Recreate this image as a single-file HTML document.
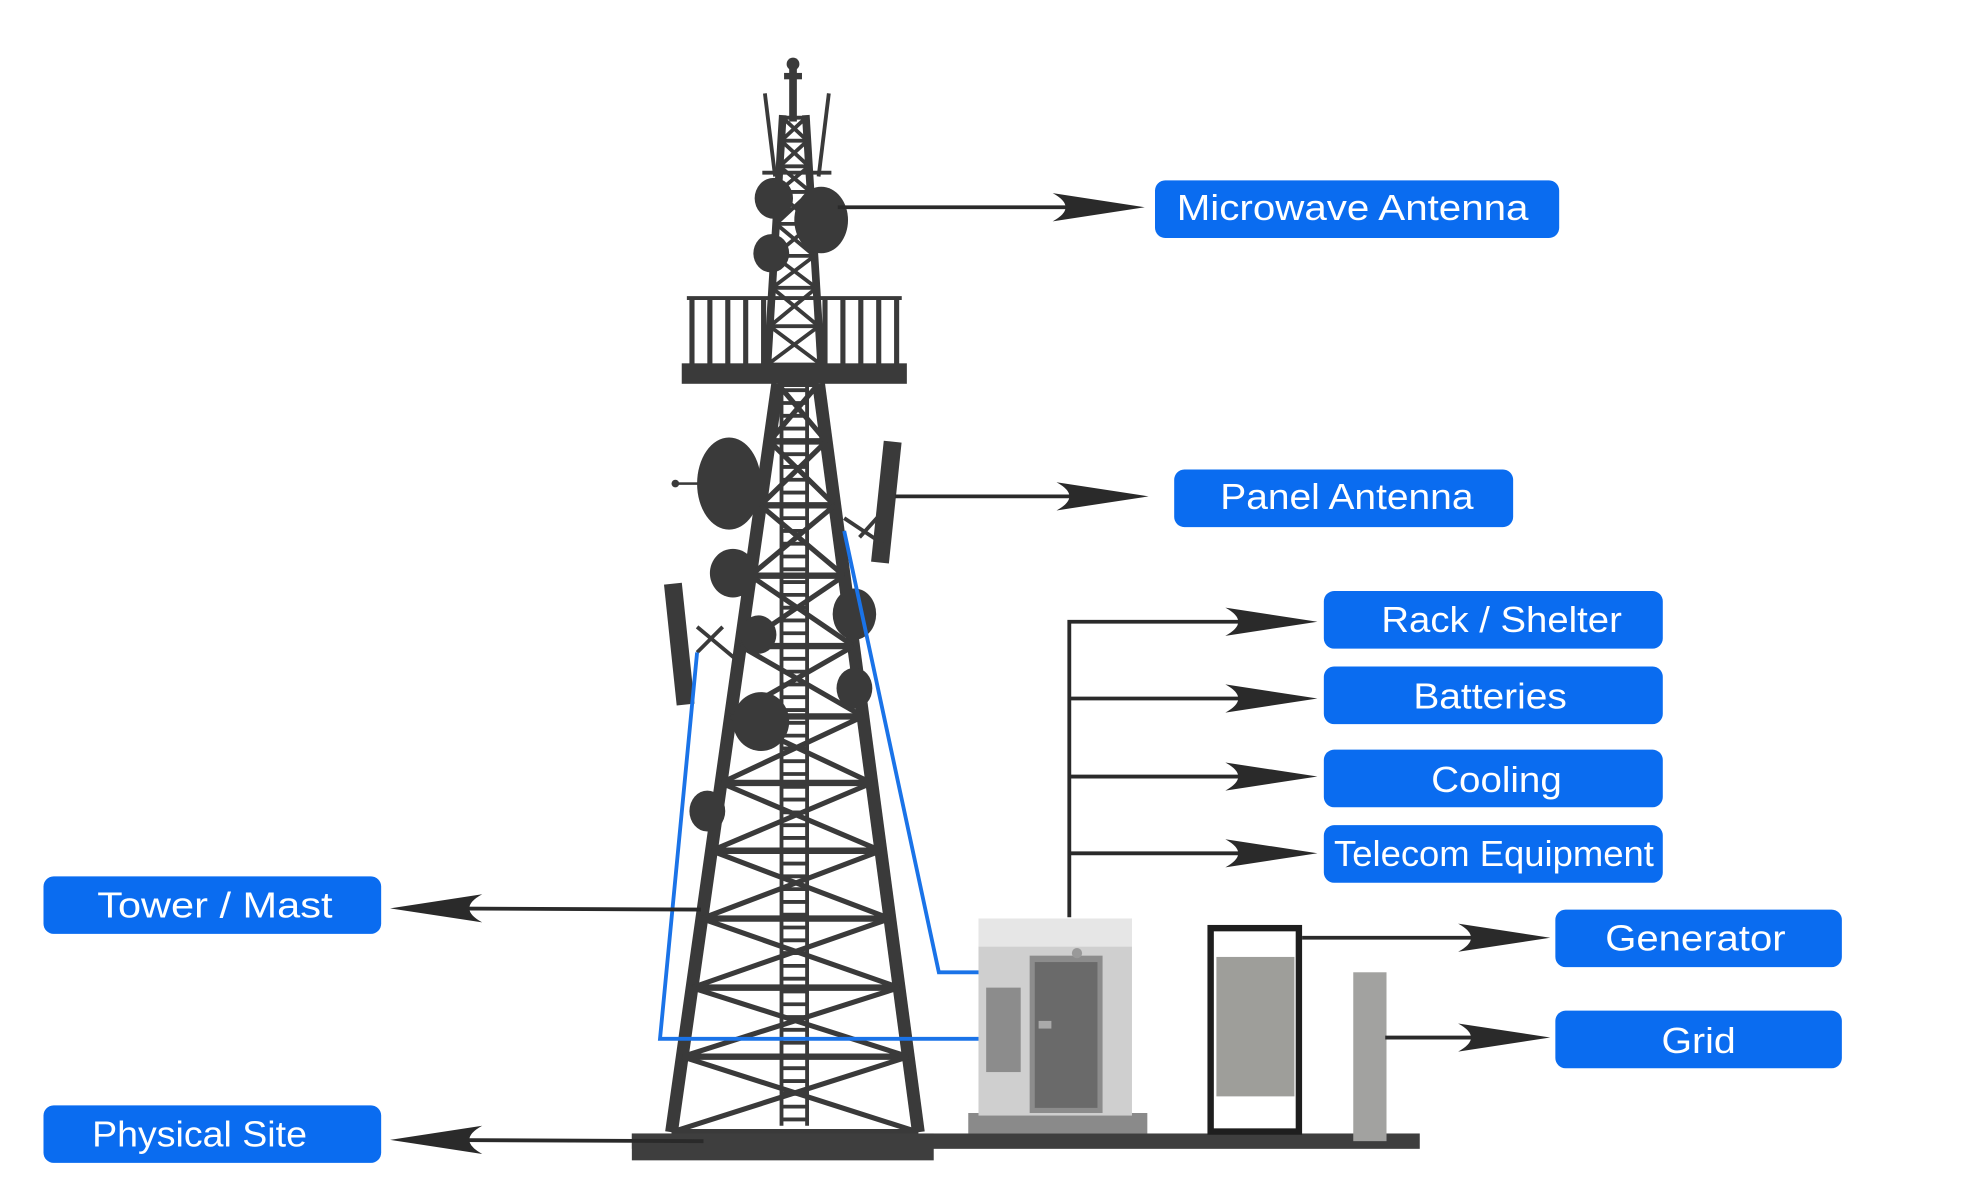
<!DOCTYPE html>
<html><head><meta charset="utf-8"><style>
html,body{margin:0;padding:0;background:#fff;}
svg{display:block;}
text{font-family:"Liberation Sans",sans-serif;fill:#fff;font-size:28px;}
</style></head><body>
<svg id="s" width="1980" height="1200" viewBox="0 0 1548 938" preserveAspectRatio="none" xmlns="http://www.w3.org/2000/svg">
<rect width="1548" height="938" fill="#fff"/>
<g id="tower" stroke="#3a3a3a" fill="none" stroke-linecap="butt"></g>
<g fill="#3a3a3a">
 <rect x="617" y="50" width="6" height="45"/>
 <circle cx="620" cy="50" r="5"/>
 <rect x="613" y="57" width="14" height="5"/>
 <rect x="533" y="284" width="176" height="16"/>
 <ellipse cx="605" cy="155" rx="15" ry="16"/>
 <ellipse cx="642" cy="172" rx="21" ry="26"/>
 <ellipse cx="603" cy="198" rx="14" ry="15"/>
 <ellipse cx="570" cy="378" rx="25" ry="36"/>
 <ellipse cx="573" cy="448" rx="18" ry="19"/>
 <ellipse cx="593" cy="496" rx="14" ry="15"/>
 <ellipse cx="668" cy="480" rx="17" ry="20"/>
 <ellipse cx="595" cy="564" rx="22" ry="23"/>
 <ellipse cx="668" cy="538" rx="14" ry="16"/>
 <ellipse cx="553" cy="634" rx="14" ry="16"/>
 <circle cx="528" cy="378" r="3"/>
 <rect x="528" y="377" width="20" height="2"/>
 <rect x="686" y="345" width="14" height="95" transform="rotate(6 693 392)"/>
 <rect x="524" y="456" width="14" height="95" transform="rotate(-6 531 503)"/>
</g>
<g stroke="#3a3a3a" stroke-width="3" fill="none">
 <line x1="537" y1="233" x2="705" y2="233"/>
 <line x1="598" y1="73" x2="606" y2="138"/><line x1="648" y1="73" x2="640" y2="138"/>
 <line x1="596" y1="135" x2="650" y2="135"/>
 <line x1="672" y1="420" x2="690" y2="400"/><line x1="660" y1="405" x2="690" y2="425"/>
 <line x1="545" y1="510" x2="565" y2="490"/><line x1="545" y1="490" x2="575" y2="515"/>
</g>
<g id="rail" stroke="#3a3a3a" stroke-width="4"></g>
<g stroke="#1a73e8" stroke-width="3" fill="none">
 <polyline points="660,415 734,760 766,760"/>
 <polyline points="545,510 516,812 766,812"/>
</g>
<rect x="494" y="886" width="616" height="12" fill="#3e3e3e"/>
<rect x="494" y="886" width="236" height="21" fill="#3e3e3e"/>
<rect x="757" y="870" width="140" height="16" fill="#8a8a8a"/>
<rect x="765" y="718" width="120" height="154" fill="#cfcfcf"/>
<rect x="765" y="718" width="120" height="22" fill="#e6e6e6"/>
<rect x="805" y="747" width="57" height="123" fill="#8c8c8c"/>
<rect x="809" y="752" width="49" height="114" fill="#6a6a6a"/>
<rect x="771" y="772" width="27" height="66" fill="#8c8c8c"/>
<circle cx="842" cy="745" r="4" fill="#999"/>
<rect x="812" y="798" width="10" height="6" fill="#aaa"/>
<rect x="946.5" y="725.5" width="69" height="159" fill="#fff" stroke="#1e1e1e" stroke-width="5"/>
<rect x="951" y="748" width="61" height="109" fill="#9e9e9a"/>
<rect x="1058" y="760" width="26" height="132" fill="#a2a2a0"/>
<g stroke="#2a2a2a" stroke-width="3" fill="none">
 <line x1="655" y1="162" x2="880" y2="162"/>
 <line x1="700" y1="388" x2="885" y2="388"/>
 <polyline points="836,717 836,486 1015,486"/>
 <line x1="836" y1="546" x2="1015" y2="546"/>
 <line x1="836" y1="607" x2="1015" y2="607"/>
 <line x1="836" y1="667" x2="1015" y2="667"/>
 <line x1="1018" y1="733" x2="1200" y2="733"/>
 <line x1="1083" y1="811" x2="1200" y2="811"/>
 <line x1="548" y1="711" x2="320" y2="710"/>
 <line x1="550" y1="892" x2="320" y2="891"/>
</g>
<g id="arrows" fill="#2a2a2a"></g>
<g fill="#0a6cf0">
 <rect x="903" y="141" width="316" height="45" rx="8"/>
 <rect x="918" y="367" width="265" height="45" rx="8"/>
 <rect x="1035" y="462" width="265" height="45" rx="8"/>
 <rect x="1035" y="521" width="265" height="45" rx="8"/>
 <rect x="1035" y="586" width="265" height="45" rx="8"/>
 <rect x="1035" y="645" width="265" height="45" rx="8"/>
 <rect x="1216" y="711" width="224" height="45" rx="8"/>
 <rect x="1216" y="790" width="224" height="45" rx="8"/>
 <rect x="34" y="685" width="264" height="45" rx="8"/>
 <rect x="34" y="864" width="264" height="45" rx="8"/>
</g>
<g lengthAdjust="spacingAndGlyphs">
 <text x="920" y="172" textLength="275" lengthAdjust="spacingAndGlyphs">Microwave Antenna</text>
 <text x="954" y="398" textLength="198" lengthAdjust="spacingAndGlyphs">Panel Antenna</text>
 <text x="1080" y="494" textLength="188" lengthAdjust="spacingAndGlyphs">Rack / Shelter</text>
 <text x="1105" y="554" textLength="120" lengthAdjust="spacingAndGlyphs">Batteries</text>
 <text x="1119" y="619" textLength="102" lengthAdjust="spacingAndGlyphs">Cooling</text>
 <text x="1043" y="677" textLength="250" lengthAdjust="spacingAndGlyphs">Telecom Equipment</text>
 <text x="1255" y="743" textLength="141" lengthAdjust="spacingAndGlyphs">Generator</text>
 <text x="1299" y="823" textLength="58" lengthAdjust="spacingAndGlyphs">Grid</text>
 <text x="76" y="717" textLength="184" lengthAdjust="spacingAndGlyphs">Tower / Mast</text>
 <text x="72" y="896" textLength="168" lengthAdjust="spacingAndGlyphs">Physical Site</text>
</g>
</svg>
<script>
var NS="http://www.w3.org/2000/svg";
function el(p,t,a){var e=document.createElementNS(NS,t);for(var k in a)e.setAttribute(k,a[k]);p.appendChild(e);return e;}
var T=document.getElementById("tower");
function xl(y){return 608+(525-608)*(y-300)/585;}
function xr(y){return 640+78*(y-300)/585;}
el(T,"line",{x1:608,y1:300,x2:525,y2:885,"stroke-width":10});
el(T,"line",{x1:640,y1:300,x2:718,y2:885,"stroke-width":10});
var lv=[300,345,395,450,505,560,612,665,718,772,826,885];
for(var i=0;i<lv.length;i++){var y=lv[i];el(T,"line",{x1:xl(y),y1:y,x2:xr(y),y2:y,"stroke-width":5});
 if(i<lv.length-1){var y2=lv[i+1];
 el(T,"line",{x1:xl(y),y1:y,x2:xr(y2),y2:y2,"stroke-width":4});
 el(T,"line",{x1:xr(y),y1:y,x2:xl(y2),y2:y2,"stroke-width":4});}}
el(T,"line",{x1:611,y1:300,x2:611,y2:880,"stroke-width":3});
el(T,"line",{x1:631,y1:300,x2:631,y2:880,"stroke-width":3});
for(var y=305;y<880;y+=10)el(T,"line",{x1:611,y1:y,x2:631,y2:y,"stroke-width":3});
el(T,"line",{x1:612,y1:90,x2:600,y2:285,"stroke-width":6});
el(T,"line",{x1:630,y1:90,x2:642,y2:285,"stroke-width":6});
var uv=[92,110,130,150,175,200,225,255,285];
function ul(y){return 612-12*(y-90)/195;}function ur(y){return 630+12*(y-90)/195;}
for(var i=0;i<uv.length;i++){var y=uv[i];el(T,"line",{x1:ul(y),y1:y,x2:ur(y),y2:y,"stroke-width":3});
 if(i<uv.length-1){var y2=uv[i+1];el(T,"line",{x1:ul(y),y1:y,x2:ur(y2),y2:y2,"stroke-width":3});el(T,"line",{x1:ur(y),y1:y,x2:ul(y2),y2:y2,"stroke-width":3});}}
var R=document.getElementById("rail");
[541,555,569,583,597,645,659,673,687,701].forEach(function(x){el(R,"line",{x1:x,y1:233,x2:x,y2:285});});
var A=document.getElementById("arrows");
function arr(tx,ty,d){var l=72*d;el(A,"path",{d:"M"+tx+","+ty+" L"+(tx-l)+","+(ty-11)+" Q"+(tx-l*0.72)+","+ty+" "+(tx-l)+","+(ty+11)+" Z"});}
arr(895,162,1);arr(898,388,1);arr(1030,486,1);arr(1030,546,1);arr(1030,607,1);arr(1030,667,1);arr(1212,733,1);arr(1212,811,1);
arr(305,710,-1);arr(305,891,-1);
</script>
</body></html>
